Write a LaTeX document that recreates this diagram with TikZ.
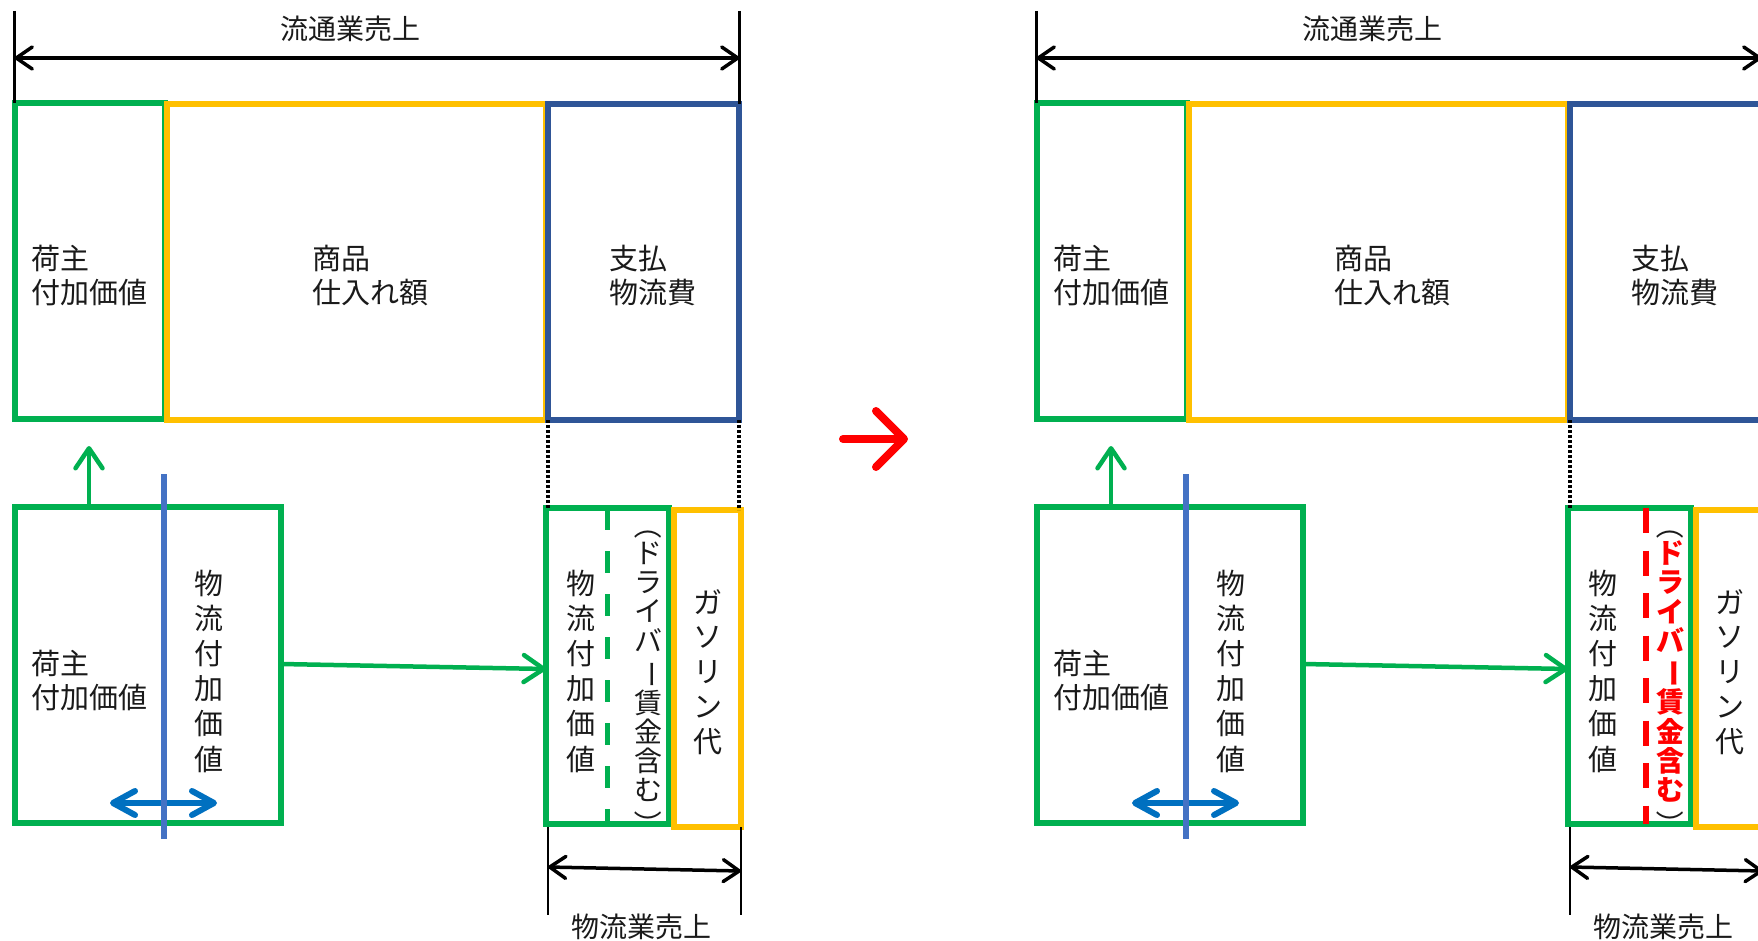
\documentclass[tikz,border=0pt]{standalone}
\usepackage{fontspec}
\usepackage{graphicx}
\setmainfont{Noto Sans CJK JP}
\usetikzlibrary{arrows.meta}
\definecolor{cgreen}{HTML}{00B050}
\definecolor{cyellow}{HTML}{FFC000}
\definecolor{cdblue}{HTML}{2F5597}
\definecolor{clblue}{HTML}{4472C4}
\definecolor{cablue}{HTML}{0070C0}
\definecolor{cred}{HTML}{FF0000}
\definecolor{ctxt}{HTML}{1A1A1A}
\newcommand\vrot[1]{\rotatebox[origin=c]{-90}{#1}}
\tikzset{
  box/.style={draw=#1, line width=6pt, inner sep=0pt, outer sep=0pt, rectangle},
  lbl/.style={inner sep=0pt, text=ctxt, font=\fontsize{29}{34}\selectfont, align=left, anchor=west},
  clbl/.style={inner sep=0pt, text=ctxt, font=\fontsize{28}{34}\selectfont},
  vlbl/.style={inner sep=0pt, text=ctxt, align=center, font=\fontsize{29}{35.2}\selectfont},
  dlbl/.style={inner sep=0pt, text=ctxt, align=center, font=\fontsize{28}{29.3}\selectfont},
  dim/.style={line width=3.5pt, draw=black, {Straight Barb[round,length=16pt,width=22pt]}-{Straight Barb[round,length=16pt,width=22pt]}},
  tick/.style={line width=2.5pt, draw=black},
  dots/.style={line width=3.5pt, draw=black, dash pattern=on 3pt off 2pt},
  garrow/.style={draw=cgreen, line width=4.5pt, -{Straight Barb[round,length=20pt,width=27pt]}},
  barrow/.style={draw=cablue, line width=6pt, {Straight Barb[round,length=22pt,width=24pt]}-{Straight Barb[round,length=22pt,width=24pt]}},
  bline/.style={draw=clblue, line width=5.5pt},
  rarrow/.style={draw=cred, line width=8pt, line cap=round, -{Straight Barb[round,length=28pt,width=56pt]}},
  gdash/.style={draw=cgreen, line width=5pt, dash pattern=on 22pt off 21pt},
  rdash/.style={draw=cred, line width=6pt, dash pattern=on 25pt off 17.5pt},
}
% #1 shift, #2 prefix, #3 dash style, #4 dash x, #5 driver text switch
\newcommand\mypanel[5]{%
\begin{scope}[shift={(#1,0)}, name prefix=#2-]
  % top boxes
  \node[box=cgreen, minimum width=150pt, minimum height=316pt] (shipT) at (90,261) {};
  \node[box=cyellow, minimum width=379pt, minimum height=316pt] (goods) at (356.5,262) {};
  \node[box=cdblue, minimum width=191pt, minimum height=316pt] (pay) at (643.5,262) {};
  % top dimension
  \coordinate (tl) at (14.5,11);
  \coordinate (tr) at (739.5,11);
  \coordinate (al) at (14.5,58);
  \coordinate (ar) at (739.5,58);
  \draw[tick] (tl) -- (tl |- shipT.north);
  \draw[tick] (tr) -- (tr |- pay.north);
  \draw[dim] (al) -- (ar);
  \node[clbl] (sales) at (350,29) {流通業売上};
  % top labels
  \node[lbl] (shipTt) at (31,276) {荷主\\付加価値};
  \node[lbl] (goodst) at (312,276) {商品\\仕入れ額};
  \node[lbl] (payt) at (609,276) {支払\\物流費};
  % bottom left box
  \node[box=cgreen, minimum width=266pt, minimum height=316pt] (shipB) at (148,665) {};
  \node[lbl] (shipBt) at (31,681) {荷主\\付加価値};
  \node[vlbl] (logiL) at (209,671) {物\\流\\付\\加\\価\\値};
  \coordinate (upb) at (89,507);
  \coordinate (upt) at (89,446);
  \draw[garrow] (upb) -- (upt);
  \coordinate (bal) at (110,803);
  \coordinate (bar) at (217,803);
  \draw[barrow] (bal) -- (bar);
  \coordinate (blt) at (164,474);
  \coordinate (blb) at (164,839);
  \draw[bline] (blt) -- (blb);
  % bottom right boxes
  \node[box=cgreen, minimum width=123pt, minimum height=316pt] (logiR) at (607.5,666) {};
  \node[box=cyellow, minimum width=67pt, minimum height=317pt] (gas) at (707.5,668.5) {};
  \coordinate (dt) at (#4,508);
  \coordinate (db) at (#4,824);
  \draw[#3] (dt) -- (db);
  \node[vlbl] (logiRt) at (581,671) {物\\流\\付\\加\\価\\値};
  \node[dlbl] (drv) at (648,675) {\vrot{（}\\[-2pt]{#5ド}\\{#5ラ}\\{#5イ}\\{#5バ}\\{#5\vrot{ー}}\\{#5賃}\\{#5金}\\{#5含}\\{#5む}\\[5pt]\vrot{）}};
  \node[vlbl, font=\fontsize{29}{34.8}\selectfont] (gast) at (708,672) {ガ\\ソ\\リ\\ン\\代};
  % connector
  \coordinate (ga) at (281,664);
  \coordinate (gb) at (546,669);
  \draw[garrow] (ga) -- (gb);
  % dotted guides
  \draw[dots] (pay.south west) -- (pay.south west |- logiR.north);
  \draw[dots] (pay.south east) -- (pay.south east |- gas.north);
  % bottom dimension
  \coordinate (bl1) at (548,827);
  \coordinate (bl2) at (548,915);
  \coordinate (br1) at (741,827);
  \coordinate (br2) at (741,915);
  \draw[tick] (bl1) -- (bl2);
  \draw[tick] (br1) -- (br2);
  \coordinate (dl) at (548,867);
  \coordinate (dr) at (741,871);
  \draw[dim] (dl) -- (dr);
  \node[clbl] (lsales) at (641,927) {物流業売上};
\end{scope}}
\begin{document}
\begin{tikzpicture}[x=1pt,y=-1pt]
\useasboundingbox (0,0) rectangle (1758,941);
\clip (0,0) rectangle (1758,941);
\fill[white] (0,0) rectangle (1758,941);
\mypanel{0}{L}{gdash}{607}{\relax}
\mypanel{1022}{R}{rdash}{624}{\color{cred}\bfseries}
\coordinate (ra1) at (843,439);
\coordinate (ra2) at (908,439);
\draw[rarrow] (ra1) -- (ra2);
\end{tikzpicture}
\end{document}
